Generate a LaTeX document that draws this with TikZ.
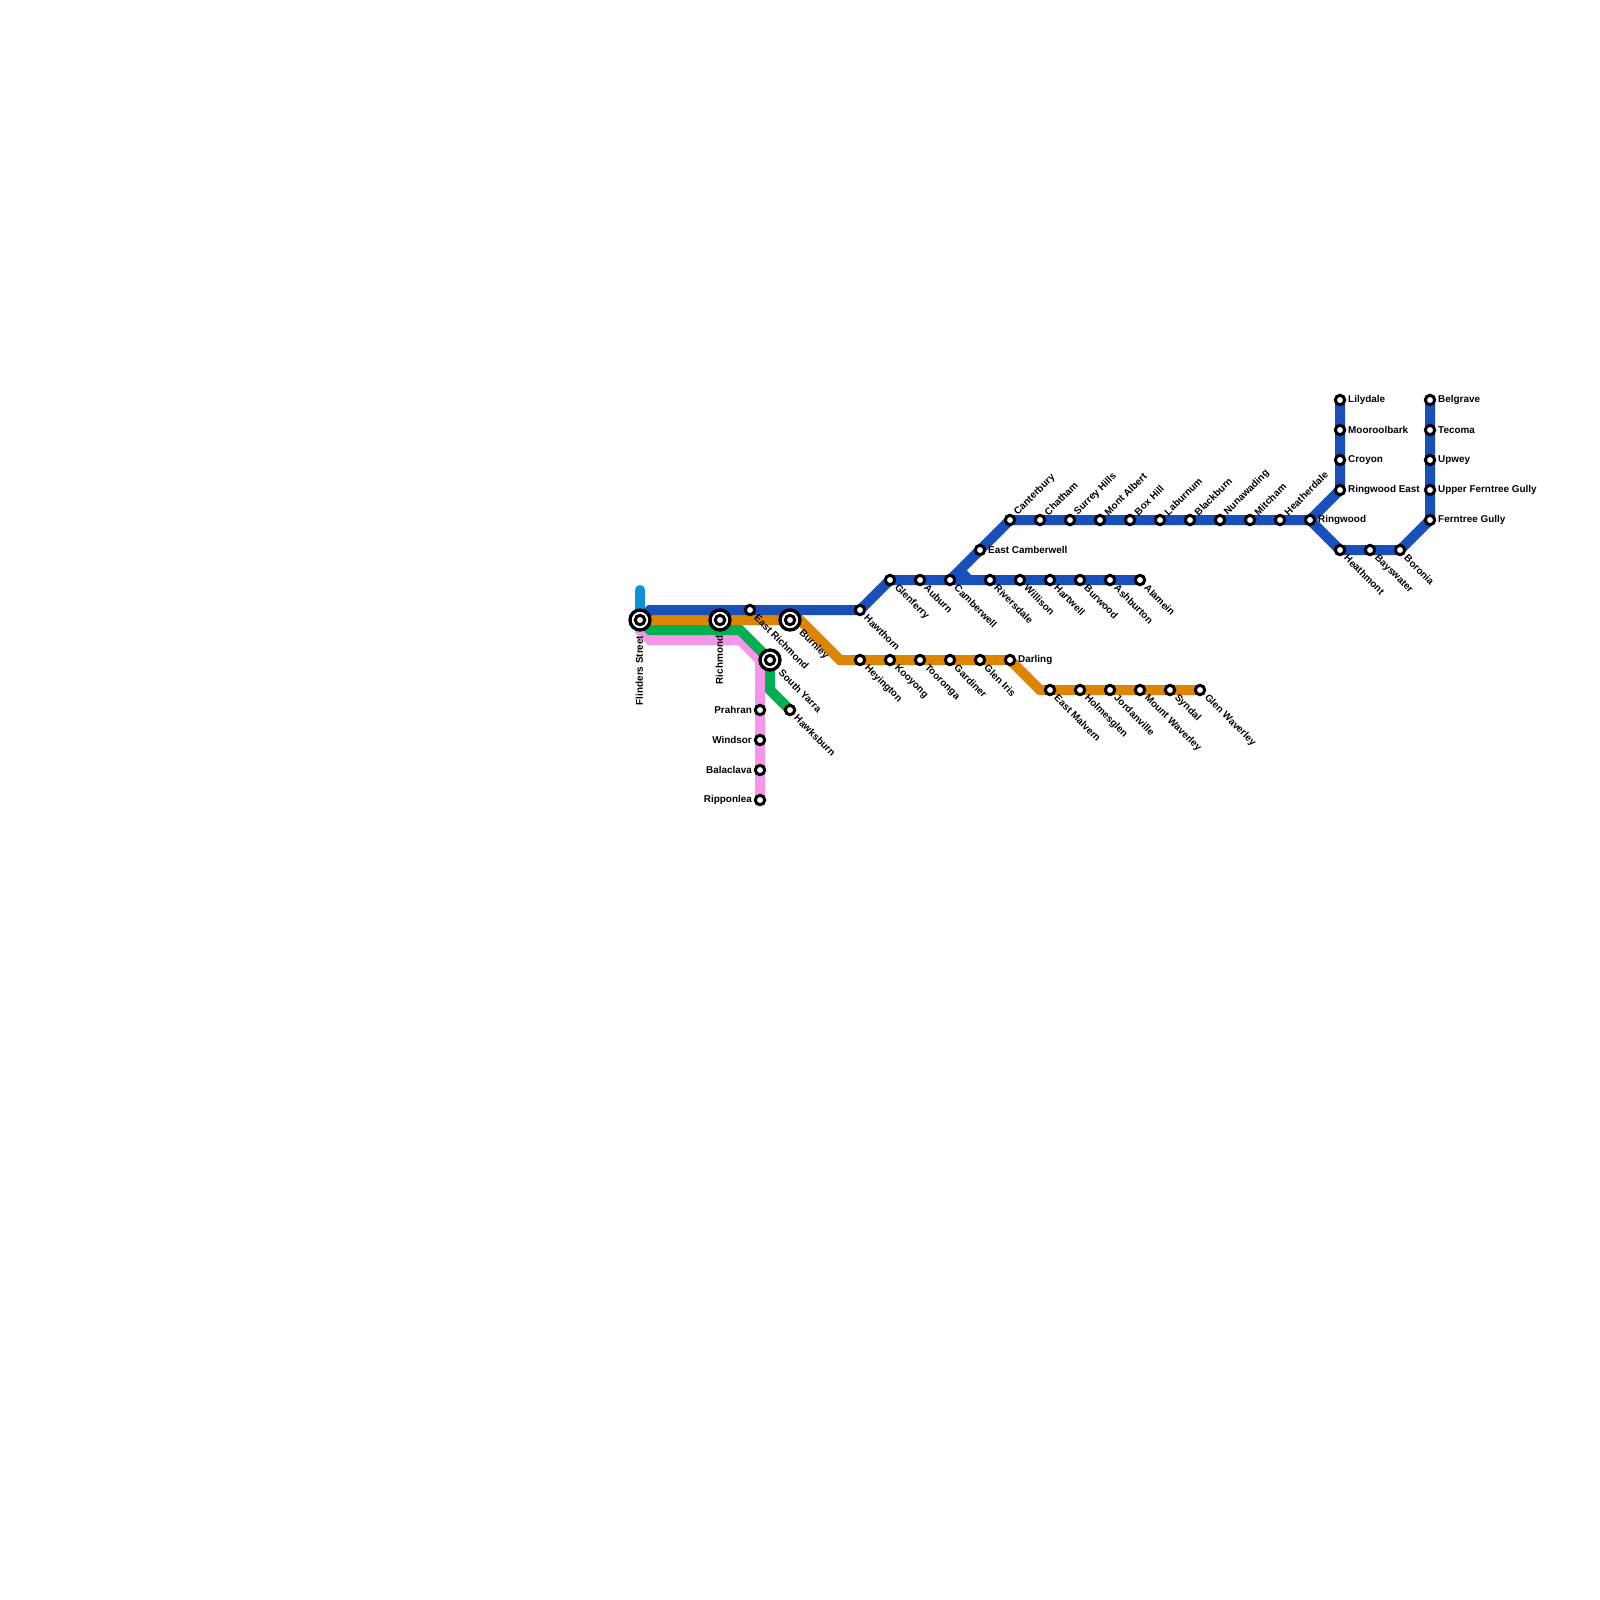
\documentclass[tikz,border=0pt]{standalone}
\usepackage{fontspec}
\setmainfont{Liberation Sans}
\usetikzlibrary{backgrounds}
\tikzset{
  x=0.5pt,y=-0.5pt,
  stnode/.style={circle,draw=black,fill=white,line width=1.5pt,minimum size=4.7pt,inner sep=0pt},
  hub/.style={circle,draw=black,fill=white,line width=1.65pt,minimum size=10pt,inner sep=0pt},
  hubin/.style={stnode},
  lbase/.style={inner sep=0pt,font=\bfseries\fontsize{4.95pt}{5pt}\selectfont},
  lblE/.style={lbase,anchor=west,xshift=3.9pt,yshift=-0.2pt},
  lblW/.style={lbase,anchor=east,xshift=-3.9pt,yshift=-0.2pt},
  lblSE/.style={lbase,anchor=west,xshift=2.9pt,yshift=-3.1pt,rotate=-45},
  lblNE/.style={lbase,anchor=west,xshift=2.9pt,yshift=3.1pt,rotate=45},
  lblSH/.style={lbase,anchor=west,xshift=5.2pt,yshift=-5.5pt,rotate=-45},
  lblDN/.style={lbase,anchor=east,xshift=-0.3pt,yshift=-7.7pt,rotate=90},
  track/.style={line width=5pt,line join=miter,line cap=butt},
}
\definecolor{cblue}{HTML}{184FB9}
\definecolor{corange}{HTML}{DE8500}
\definecolor{cgreen}{HTML}{00B050}
\definecolor{cpink}{HTML}{F596E8}
\definecolor{csky}{HTML}{0A94D6}
\newcommand{\stn}[5]{\node[stnode] (#1) at (#2,#3) {}; \node[lbl#4] (#1l) at (#2,#3) {#5};}
\newcommand{\hubstn}[5]{\node[hub] (#1) at (#2,#3) {}; \node[hubin] (#1i) at (#2,#3) {}; \node[lbl#4] (#1l) at (#2,#3) {#5};}
\begin{document}
\begin{tikzpicture}
\useasboundingbox (0,0) rectangle (1600,1600);
% bends
\coordinate (bb) at (650,610);
\coordinate (bg) at (650,630);
\coordinate (bgb) at (740,630);
\coordinate (bgv) at (770,690);
\coordinate (bp0) at (640,630);
\coordinate (bp) at (650,640);
\coordinate (bpb) at (740,640);
\coordinate (bpv) at (760,660);
\coordinate (bo1) at (800,620);
\coordinate (bo2) at (840,660);
\coordinate (bo3) at (1040,690);
\coordinate (sky) at (640,590);
% hubs
\hubstn{fl}{640}{620}{DN}{Flinders Street}
\hubstn{ri}{720}{620}{DN}{Richmond}
\hubstn{bu}{790}{620}{SH}{Burnley}
\hubstn{sy}{770}{660}{SH}{South Yarra}
% pink and green
\stn{er}{750}{610}{SE}{East Richmond}
\stn{pr}{760}{710}{W}{Prahran}
\stn{wi}{760}{740}{W}{Windsor}
\stn{ba}{760}{770}{W}{Balaclava}
\stn{rp}{760}{800}{W}{Ripponlea}
\stn{ha}{790}{710}{SE}{Hawksburn}
% blue main
\stn{hw}{860}{610}{SE}{Hawthorn}
\stn{gl}{890}{580}{SE}{Glenferry}
\stn{au}{920}{580}{SE}{Auburn}
\stn{ca}{950}{580}{SE}{Camberwell}
\stn{rv}{990}{580}{SE}{Riversdale}
\stn{wl}{1020}{580}{SE}{Willison}
\stn{hr}{1050}{580}{SE}{Hartwell}
\stn{bw}{1080}{580}{SE}{Burwood}
\stn{as}{1110}{580}{SE}{Ashburton}
\stn{al}{1140}{580}{SE}{Alamein}
\stn{ec}{980}{550}{E}{East Camberwell}
\stn{ct}{1010}{520}{NE}{Canterbury}
\stn{ch}{1040}{520}{NE}{Chatham}
\stn{su}{1070}{520}{NE}{Surrey Hills}
\stn{mo}{1100}{520}{NE}{Mont Albert}
\stn{bx}{1130}{520}{NE}{Box Hill}
\stn{lb}{1160}{520}{NE}{Laburnum}
\stn{bl}{1190}{520}{NE}{Blackburn}
\stn{nu}{1220}{520}{NE}{Nunawading}
\stn{mi}{1250}{520}{NE}{Mitcham}
\stn{he}{1280}{520}{NE}{Heatherdale}
\stn{rw}{1310}{520}{E}{Ringwood}
\stn{re}{1340}{490}{E}{Ringwood East}
\stn{cr}{1340}{460}{E}{Croyon}
\stn{mb}{1340}{430}{E}{Mooroolbark}
\stn{li}{1340}{400}{E}{Lilydale}
\stn{hm}{1340}{550}{SE}{Heathmont}
\stn{bs}{1370}{550}{SE}{Bayswater}
\stn{bo}{1400}{550}{SE}{Boronia}
\stn{fg}{1430}{520}{E}{Ferntree Gully}
\stn{uf}{1430}{490}{E}{Upper Ferntree Gully}
\stn{up}{1430}{460}{E}{Upwey}
\stn{te}{1430}{430}{E}{Tecoma}
\stn{be}{1430}{400}{E}{Belgrave}
% orange
\stn{hy}{860}{660}{SE}{Heyington}
\stn{ko}{890}{660}{SE}{Kooyong}
\stn{to}{920}{660}{SE}{Tooronga}
\stn{ga}{950}{660}{SE}{Gardiner}
\stn{gi}{980}{660}{SE}{Glen Iris}
\stn{da}{1010}{660}{E}{Darling}
\stn{em}{1050}{690}{SE}{East Malvern}
\stn{ho}{1080}{690}{SE}{Holmesglen}
\stn{jo}{1110}{690}{SE}{Jordanville}
\stn{mw}{1140}{690}{SE}{Mount Waverley}
\stn{sd}{1170}{690}{SE}{Syndal}
\stn{gw}{1200}{690}{SE}{Glen Waverley}
\begin{scope}[on background layer]
\fill[white] (0,0) rectangle (1600,1600);
\draw[track,csky,line cap=round] (sky) -- (fl.center);
\draw[track,cpink] (fl.center) -- (bp0) -- (bp) -- (bpb) -- (bpv) -- (pr.center) -- (wi.center) -- (ba.center) -- (rp.center);
\draw[track,cgreen] (fl.center) -- (bg) -- (bgb) -- (sy.center) -- (bgv) -- (ha.center);
\draw[track,corange] (fl.center) -- (ri.center) -- (bu.center) -- (bo1) -- (bo2) -- (hy.center) -- (ko.center) -- (to.center) -- (ga.center) -- (gi.center) -- (da.center) -- (bo3) -- (em.center) -- (ho.center) -- (jo.center) -- (mw.center) -- (sd.center) -- (gw.center);
\draw[track,cblue] (fl.center) -- (bb) -- (er.center) -- (hw.center) -- (gl.center) -- (au.center) -- (ca.center) -- (rv.center) -- (wl.center) -- (hr.center) -- (bw.center) -- (as.center) -- (al.center);
\draw[track,cblue] (ca.center) -- (ec.center) -- (ct.center) -- (ch.center) -- (su.center) -- (mo.center) -- (bx.center) -- (lb.center) -- (bl.center) -- (nu.center) -- (mi.center) -- (he.center) -- (rw.center) -- (re.center) -- (cr.center) -- (mb.center) -- (li.center);
\draw[track,cblue] (rw.center) -- (hm.center) -- (bs.center) -- (bo.center) -- (fg.center) -- (uf.center) -- (up.center) -- (te.center) -- (be.center);
\fill[cblue] (960,576) -- (966.7,570.3) -- (972,576) -- cycle;
\end{scope}
\end{tikzpicture}
\end{document}
